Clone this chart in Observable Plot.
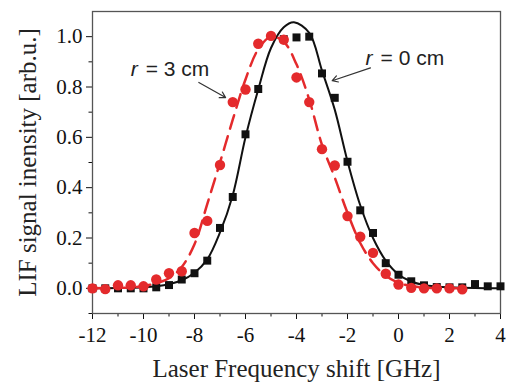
<!DOCTYPE html>
<html><head><meta charset="utf-8">
<script src="https://cdn.jsdelivr.net/npm/d3@7"></script>
<script src="https://cdn.jsdelivr.net/npm/@observablehq/plot@0.6"></script>
<style>body{margin:0;background:#fff}</style>
</head><body><div id="chart"></div>
<script>
// r = 0 cm (black squares)
const shiftR0 = [-12,-11.5,-11,-10.5,-10,-9.5,-9,-8.5,-8,-7.5,-7,-6.5,-6,-5.5,-4.5,-4,-3.5,-3,-2.5,-2,-1.5,-1,-0.5,0,0.5,1,1.5,2,2.5,3,3.5,4];
const lifR0   = [0,0,0,0,0,0.004,0.013,0.035,0.06,0.11,0.24,0.363,0.612,0.792,0.99,0.997,1.0,0.854,0.757,0.503,0.31,0.22,0.1,0.054,0.028,0.012,0.005,0.004,0.004,0.017,0.008,0.008];
// r = 3 cm (red circles)
const shiftR3 = [-12,-11.5,-11,-10.5,-10,-9.5,-9,-8.5,-8,-7.5,-7,-6.5,-6,-5.5,-5,-4.5,-4,-3.5,-3,-2.5,-2,-1.5,-1,-0.5,0,0.5,1,1.5,2,2.5];
const lifR3   = [0,-0.003,0.012,0.012,0.008,0.035,0.06,0.068,0.22,0.268,0.49,0.74,0.79,0.972,1.003,0.988,0.838,0.74,0.553,0.488,0.287,0.205,0.141,0.058,0.015,0.002,0,0,0,-0.004];
// fitted curves
const fitShiftR0 = [-12,-11,-10.5,-10,-9.5,-9,-8.5,-8,-7.5,-7,-6.5,-6,-5.5,-5,-4.5,-4.1,-3.5,-3,-2.5,-2,-1.5,-1,-0.5,0,0.5,1,1.5,2,3,4];
const fitR0      = [0,0.001,0.002,0.004,0.008,0.016,0.032,0.062,0.115,0.222,0.37,0.6,0.79,0.955,1.037,1.057,1.015,0.865,0.71,0.505,0.33,0.2,0.11,0.055,0.027,0.013,0.007,0.004,0.001,0];
const fitShiftR3 = [-12,-11,-10.5,-10,-9.5,-9,-8.5,-8,-7.5,-7,-6.5,-6,-5.5,-5,-4.5,-4,-3.5,-3,-2.5,-2,-1.5,-1,-0.5,0,0.5,1,1.5,2,2.5];
const fitR3      = [0,0.002,0.004,0.009,0.02,0.04,0.085,0.175,0.335,0.5,0.67,0.83,0.95,1.0,0.98,0.89,0.75,0.57,0.44,0.3,0.18,0.1,0.05,0.022,0.009,0.003,0.001,0,0];
// ticks
const xTicks = [-12,-10,-8,-6,-4,-2,0,2,4];
const xMinor = [-11,-9,-7,-5,-3,-1,1,3];
const yTicks = [0,0.2,0.4,0.6,0.8,1.0];
const yMinor = [-0.1,0.1,0.3,0.5,0.7,0.9];
// annotations
const annoR = ["r","r"];
const annoRest = ["= 3 cm","= 0 cm"];
const annoX = [-10.5,-1.29];
const annoY = [0.869,0.914];
const arrX1 = [-7.83,-1.1], arrY1 = [0.818,0.876], arrX2 = [-6.78,-2.6], arrY2 = [0.758,0.825];
const xTitle = "Laser Frequency shift [GHz]";
const yTitle = "LIF signal inensity [arb.u.]";

const r0 = shiftR0.map((x,i)=>({x, y: lifR0[i]}));
const r3 = shiftR3.map((x,i)=>({x, y: lifR3[i]}));
const f0 = fitShiftR0.map((x,i)=>({x, y: fitR0[i]}));
const f3 = fitShiftR3.map((x,i)=>({x, y: fitR3[i]}));
const anno = annoX.map((x,i)=>({x, y: annoY[i], r: annoR[i], rest: annoRest[i]}));
const arrows = arrX1.map((x1,i)=>({x1, y1: arrY1[i], x2: arrX2[i], y2: arrY2[i]}));

const red = "#e42a2c";
const serif = "'Liberation Serif', serif";
const sans = "'Liberation Sans', Arial, sans-serif";
const chart = Plot.plot({
  width: 506, height: 383,
  marginLeft: 92, marginRight: 6, marginTop: 11, marginBottom: 70,
  style: {fontFamily: serif, background: "#fff", color: "#111"},
  x: {domain: [-12, 4]},
  y: {domain: [-0.1, 1.1]},
  marks: [
    Plot.axisX(xTicks, {tickSize: 6, tickPadding: 8, fontSize: 21, fontFamily: serif, label: null, tickFormat: d => String(d)}),
    Plot.axisX(xMinor, {tickSize: 3.5, text: null, label: null}),
    Plot.axisY(yTicks, {tickSize: 6, tickPadding: 4, fontSize: 21, fontFamily: serif, label: null, tickFormat: d3.format(".1f")}),
    Plot.axisY(yMinor, {tickSize: 3.5, text: null, label: null}),
    Plot.frame({stroke: "#555", strokeWidth: 1.3}),
    Plot.line(f0, {x: "x", y: "y", curve: "catmull-rom", stroke: "#111", strokeWidth: 2}),
    Plot.dot(r0, {x: "x", y: "y", symbol: "square", r: 4.5, fill: "#111"}),
    Plot.line(f3, {x: "x", y: "y", curve: "catmull-rom", stroke: red, strokeWidth: 2.5, strokeDasharray: "14,8"}),
    Plot.dot(r3, {x: "x", y: "y", r: 5.2, fill: red}),
    Plot.arrow(arrows, {x1: "x1", y1: "y1", x2: "x2", y2: "y2", stroke: "#333", strokeWidth: 1.2, headLength: 8}),
    Plot.text(anno, {x: "x", y: "y", text: "r", fontFamily: sans, fontStyle: "italic", fontSize: 21, textAnchor: "start", lineAnchor: "middle", fill: "#222"}),
    Plot.text(anno, {x: "x", y: "y", text: "rest", dx: 15, fontFamily: sans, fontSize: 21, textAnchor: "start", lineAnchor: "middle", fill: "#222"}),
    Plot.text([xTitle], {frameAnchor: "bottom", dy: 55, fontSize: 25, fontFamily: serif, textAnchor: "middle", lineAnchor: "middle", fill: "#222"}),
    Plot.text([yTitle], {frameAnchor: "left", dx: -65, rotate: -90, fontSize: 25, fontFamily: serif, textAnchor: "middle", lineAnchor: "middle", fill: "#222"})
  ]
});
document.getElementById("chart").appendChild(chart);
</script>
</body></html>
